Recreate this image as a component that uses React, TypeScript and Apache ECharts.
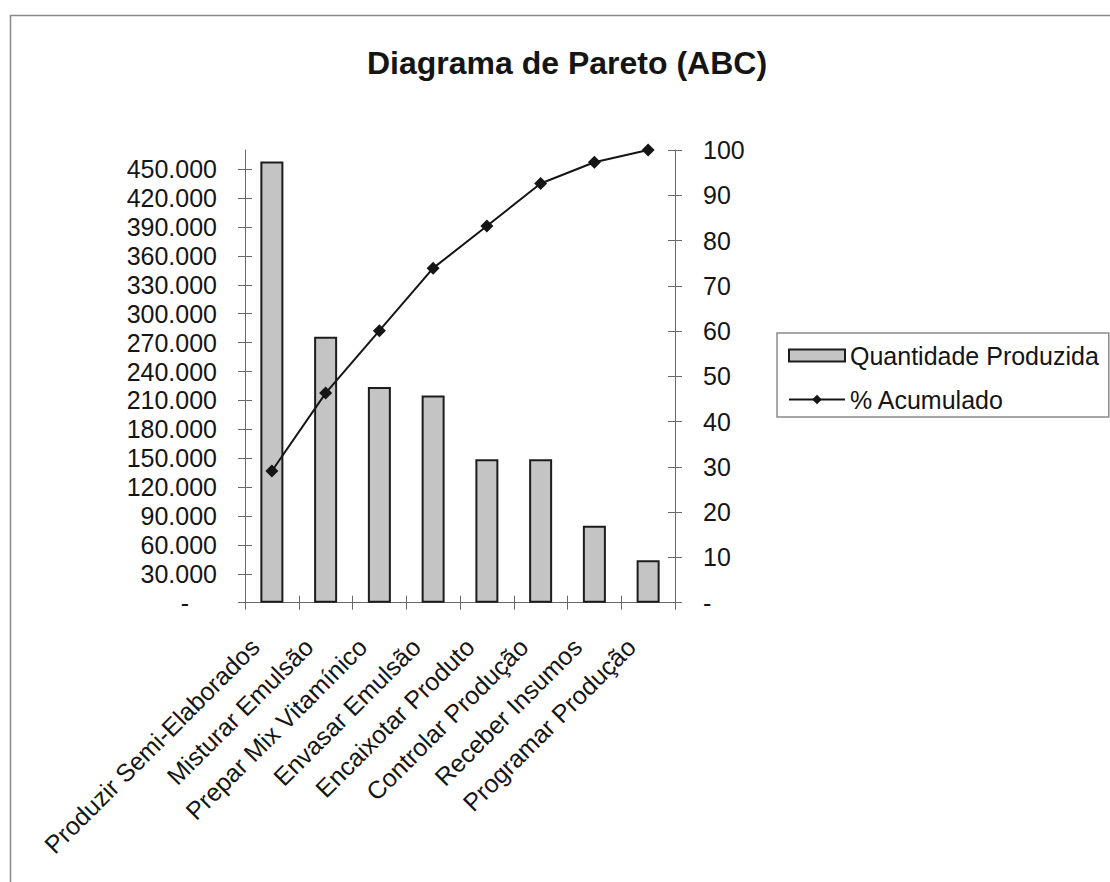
import React, { useEffect, useRef } from "react";
import * as echarts from "echarts";

const categories = [
  "Produzir Semi-Elaborados",
  "Misturar Emulsão",
  "Prepar Mix Vitamínico",
  "Envasar Emulsão",
  "Encaixotar Produto",
  "Controlar Produção",
  "Receber Insumos",
  "Programar Produção",
];
const quantities = [458000, 276000, 224000, 215000, 149000, 149000, 80000, 44000];
const cumulativePct = [29.1, 46.3, 60.1, 73.9, 83.2, 92.6, 97.3, 100];
const leftTicks = [0, 30000, 60000, 90000, 120000, 150000, 180000, 210000, 240000, 270000, 300000, 330000, 360000, 390000, 420000, 450000];
const rightTicks = [0, 10, 20, 30, 40, 50, 60, 70, 80, 90, 100];

const FONT = "Liberation Sans, Arial, Helvetica, sans-serif";
const AXIS = "#6a6a6a";
const TXT = "#151515";

function fmtLeft(v: number): string {
  if (v === 0) return "{z|-}";
  return String(v).replace(/\B(?=(\d{3})+(?!\d))/g, ".");
}

export default function App() {
  const ref = useRef<HTMLDivElement>(null);
  useEffect(() => {
    if (!ref.current) return;
    const chart = echarts.init(ref.current, undefined, { renderer: "svg" });
    const tickCommon = { show: true, lineStyle: { color: AXIS, width: 1 }, length: 7 };
    chart.setOption({
      animation: false,
      backgroundColor: "#ffffff",
      graphic: [
        {
          type: "rect",
          shape: { x: 10.5, y: 15.5, width: 1200, height: 1000 },
          style: { fill: "none", stroke: "#8a8a8a", lineWidth: 1.5 },
          silent: true,
        },
        {
          type: "text",
          x: 567,
          y: 63,
          style: {
            text: "Diagrama de Pareto (ABC)",
            font: "bold 32px " + FONT,
            fill: TXT,
            textAlign: "center",
            textVerticalAlign: "middle",
          },
        },
      ],
      legend: {
        left: 777,
        top: 333,
        orient: "vertical",
        padding: [10, 10, 5, 11],
        itemGap: 19,
        itemWidth: 56,
        itemHeight: 12,
        borderColor: "#8a8a8a",
        borderWidth: 1.5,
        textStyle: { fontFamily: FONT, fontSize: 25, color: TXT },
        data: [
          { name: "Quantidade Produzida", icon: "rect" },
          { name: "% Acumulado" },
        ],
      },
      grid: { left: 245, top: 150, width: 430, height: 452.7, containLabel: false },
      xAxis: [
        {
          type: "category",
          data: categories,
          boundaryGap: true,
          axisLine: { show: true, lineStyle: { color: AXIS, width: 1 } },
          axisTick: { ...tickCommon, inside: false, alignWithLabel: false, interval: 0 },
          axisLabel: {
            rotate: 45,
            margin: 23,
            padding: [0, 24, 0, 0],
            fontFamily: FONT,
            fontSize: 25,
            color: TXT,
            interval: 0,
          },
        },
        {
          type: "category",
          data: categories,
          position: "bottom",
          boundaryGap: true,
          axisLine: { show: false },
          axisTick: { ...tickCommon, inside: true, alignWithLabel: false, interval: 0 },
          axisLabel: { show: false },
        },
      ],
      yAxis: [
        {
          type: "value",
          position: "left",
          min: 0,
          max: 470000,
          splitLine: { show: false },
          axisLine: { show: true, lineStyle: { color: AXIS, width: 1 } },
          axisTick: { ...tickCommon, inside: false, customValues: leftTicks },
          axisLabel: {
            customValues: leftTicks,
            formatter: fmtLeft,
            margin: 28,
            fontFamily: FONT,
            fontSize: 25,
            color: TXT,
            rich: { z: { fontFamily: FONT, fontSize: 25, color: TXT, padding: [0, 28, 0, 0] } },
          },
        },
        {
          type: "value",
          position: "right",
          min: 0,
          max: 100,
          interval: 10,
          splitLine: { show: false },
          axisLine: { show: true, lineStyle: { color: AXIS, width: 1 } },
          axisTick: { ...tickCommon, inside: false },
          axisLabel: {
            formatter: (v: number) => (v === 0 ? "-" : String(v)),
            margin: 28,
            fontFamily: FONT,
            fontSize: 25,
            color: TXT,
          },
        },
        {
          type: "value",
          position: "left",
          min: 0,
          max: 470000,
          splitLine: { show: false },
          axisLine: { show: false },
          axisTick: { ...tickCommon, inside: true, customValues: leftTicks },
          axisLabel: { show: false },
        },
        {
          type: "value",
          position: "right",
          min: 0,
          max: 100,
          interval: 10,
          splitLine: { show: false },
          axisLine: { show: false },
          axisTick: { ...tickCommon, inside: true, customValues: rightTicks },
          axisLabel: { show: false },
        },
      ],
      series: [
        {
          name: "Quantidade Produzida",
          type: "bar",
          xAxisIndex: 0,
          yAxisIndex: 0,
          data: quantities,
          barWidth: 23,
          itemStyle: { color: "#c4c4c4", borderColor: "#1c1c1c", borderWidth: 2 },
        },
        {
          name: "% Acumulado",
          type: "line",
          xAxisIndex: 0,
          yAxisIndex: 1,
          data: cumulativePct,
          symbol: "diamond",
          symbolSize: 13,
          lineStyle: { color: "#151515", width: 2 },
          itemStyle: { color: "#151515" },
        },
      ],
    });
    return () => chart.dispose();
  }, []);
  return (
    <div
      ref={ref}
      style={{ position: "fixed", left: 0, top: 0, width: 1110, height: 882, background: "#fff" }}
    />
  );
}
